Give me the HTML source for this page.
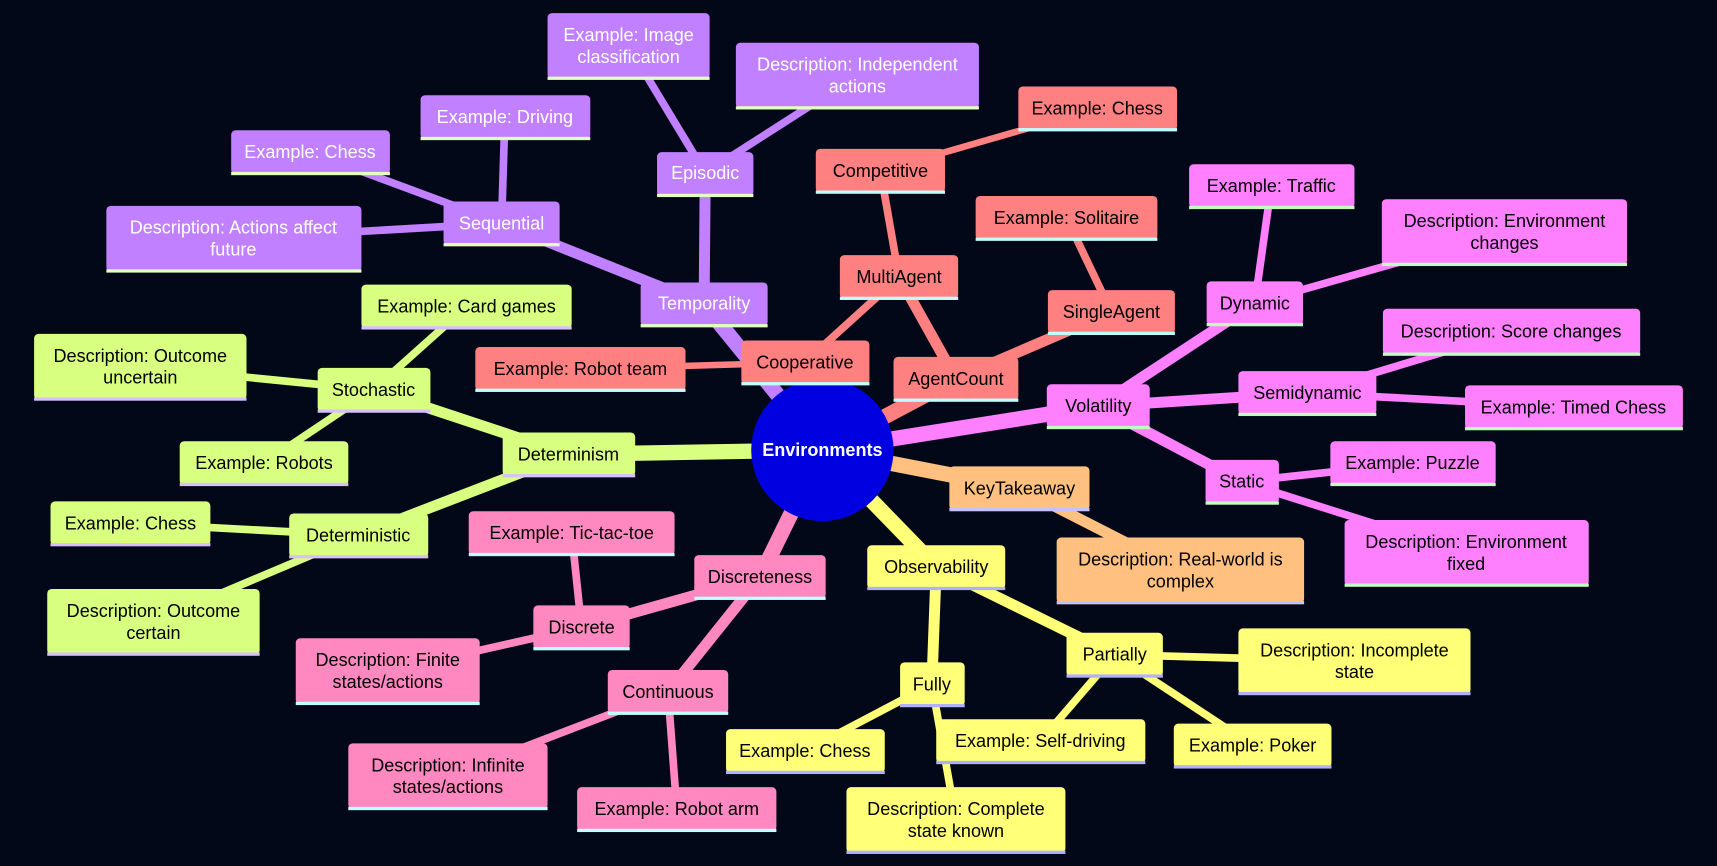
<!DOCTYPE html>
<html><head><meta charset="utf-8"><style>
html,body{margin:0;padding:0;background:#030818;}
svg{display:block}
text{font-family:"Liberation Sans","DejaVu Sans",sans-serif;font-size:16.5px;text-anchor:middle;dominant-baseline:central}
.w text{fill:#fff}
</style></head><body>
<svg width="1717" height="866" viewBox="0 0 1568 791" xmlns="http://www.w3.org/2000/svg">
<rect x="0" y="0" width="1568" height="791" fill="#030818"/>
<!-- edges -->
<g fill="none" stroke-linecap="butt">
<!-- purple -->
<g stroke="#c080ff">
<line x1="751" y1="411" x2="643" y2="278" stroke-width="14"/>
<line x1="643" y1="278" x2="458" y2="204" stroke-width="10"/>
<line x1="643" y1="278" x2="644" y2="158" stroke-width="10"/>
<line x1="644" y1="158" x2="574" y2="42" stroke-width="7"/>
<line x1="644" y1="158" x2="783" y2="69" stroke-width="7"/>
<line x1="458" y1="204" x2="461" y2="107" stroke-width="7"/>
<line x1="458" y1="204" x2="283" y2="139" stroke-width="7"/>
<line x1="458" y1="204" x2="213" y2="218" stroke-width="7"/>
</g>
<g stroke="#ff8080">
<line x1="751" y1="411" x2="873" y2="346" stroke-width="14"/>
<line x1="873" y1="346" x2="821" y2="253" stroke-width="10"/>
<line x1="873" y1="346" x2="1015" y2="285" stroke-width="10"/>
<line x1="821" y1="253" x2="804" y2="156" stroke-width="7"/>
<line x1="821" y1="253" x2="735" y2="331" stroke-width="7"/>
<line x1="804" y1="156" x2="1002" y2="99" stroke-width="6"/>
<line x1="1015" y1="285" x2="974" y2="199" stroke-width="7"/>
<line x1="735" y1="331" x2="530" y2="337" stroke-width="6"/>
</g>
<g stroke="#ff80ff">
<line x1="751" y1="411" x2="1003" y2="371" stroke-width="14"/>
<line x1="1003" y1="371" x2="1146" y2="277" stroke-width="10"/>
<line x1="1003" y1="371" x2="1194" y2="359" stroke-width="10"/>
<line x1="1003" y1="371" x2="1134" y2="440" stroke-width="10"/>
<line x1="1146" y1="277" x2="1161" y2="170" stroke-width="7"/>
<line x1="1146" y1="277" x2="1374" y2="212" stroke-width="7"/>
<line x1="1194" y1="359" x2="1380" y2="303" stroke-width="7"/>
<line x1="1194" y1="359" x2="1437" y2="372" stroke-width="7"/>
<line x1="1134" y1="440" x2="1290" y2="423" stroke-width="7"/>
<line x1="1134" y1="440" x2="1339" y2="505" stroke-width="7"/>
</g>
<g stroke="#d8ff80">
<line x1="751" y1="411" x2="519" y2="415" stroke-width="14"/>
<line x1="519" y1="415" x2="341" y2="356" stroke-width="10"/>
<line x1="519" y1="415" x2="327" y2="489" stroke-width="10"/>
<line x1="341" y1="356" x2="426" y2="280" stroke-width="7"/>
<line x1="341" y1="356" x2="128" y2="335" stroke-width="7"/>
<line x1="341" y1="356" x2="241" y2="423" stroke-width="7"/>
<line x1="327" y1="489" x2="119" y2="478" stroke-width="7"/>
<line x1="327" y1="489" x2="140" y2="568" stroke-width="7"/>
</g>
<g stroke="#ff88c0">
<line x1="751" y1="411" x2="694" y2="527" stroke-width="14"/>
<line x1="694" y1="527" x2="531" y2="573" stroke-width="10"/>
<line x1="694" y1="527" x2="610" y2="632" stroke-width="10"/>
<line x1="531" y1="573" x2="522" y2="487" stroke-width="7"/>
<line x1="531" y1="573" x2="354" y2="613" stroke-width="7"/>
<line x1="610" y1="632" x2="409" y2="709" stroke-width="7"/>
<line x1="610" y1="632" x2="618" y2="739" stroke-width="7"/>
</g>
<g stroke="#ffff78">
<line x1="751" y1="411" x2="855" y2="518" stroke-width="14"/>
<line x1="855" y1="518" x2="851" y2="625" stroke-width="10"/>
<line x1="855" y1="518" x2="1018" y2="598" stroke-width="10"/>
<line x1="851" y1="625" x2="735" y2="686" stroke-width="7"/>
<line x1="851" y1="625" x2="873" y2="749" stroke-width="7"/>
<line x1="1018" y1="598" x2="950" y2="677" stroke-width="7"/>
<line x1="1018" y1="598" x2="1237" y2="604" stroke-width="7"/>
<line x1="1018" y1="598" x2="1144" y2="681" stroke-width="7"/>
</g>
<g stroke="#ffc080">
<line x1="751" y1="411" x2="931" y2="446" stroke-width="14"/>
<line x1="931" y1="446" x2="1078" y2="521" stroke-width="10"/>
</g>
</g>
<circle cx="751" cy="411" r="65" fill="#0000e0"/>
<text x="751" y="411" fill="#fff" font-weight="bold">Environments</text>

<!-- purple nodes -->
<g class="w">
<g fill="#c080ff"><rect x="585" y="258" width="116" height="40" rx="4"/><rect x="405" y="184" width="106" height="40" rx="4"/><rect x="600" y="139" width="88" height="40" rx="4"/><rect x="500" y="12" width="148" height="60" rx="4"/><rect x="672" y="39" width="222" height="60" rx="4"/><rect x="384" y="87" width="155" height="40" rx="4"/><rect x="211" y="119" width="145" height="40" rx="4"/><rect x="97" y="188" width="233" height="60" rx="4"/></g>
<g fill="#e0ffc0"><rect x="585" y="296" width="116" height="3"/><rect x="405" y="222" width="106" height="3"/><rect x="600" y="177" width="88" height="3"/><rect x="500" y="70" width="148" height="3"/><rect x="672" y="97" width="222" height="3"/><rect x="384" y="125" width="155" height="3"/><rect x="211" y="157" width="145" height="3"/><rect x="97" y="246" width="233" height="3"/></g>
<text x="643" y="277">Temporality</text><text x="458" y="204">Sequential</text><text x="644" y="158">Episodic</text>
<text x="574" y="32">Example: Image</text><text x="574" y="52">classification</text>
<text x="783" y="59">Description: Independent</text><text x="783" y="79">actions</text>
<text x="461" y="107">Example: Driving</text><text x="283" y="139">Example: Chess</text>
<text x="213" y="208">Description: Actions affect</text><text x="213" y="228">future</text>
</g>

<!-- salmon -->
<g fill="#ff8080"><rect x="816" y="326" width="114" height="40" rx="4"/><rect x="767" y="233" width="108" height="40" rx="4"/><rect x="957" y="265" width="116" height="40" rx="4"/><rect x="745" y="136" width="118" height="40" rx="4"/><rect x="930" y="79" width="145" height="40" rx="4"/><rect x="891" y="179" width="166" height="40" rx="4"/><rect x="677" y="311" width="117" height="40" rx="4"/><rect x="434" y="317" width="192" height="40" rx="4"/></g>
<g fill="#c0ffff"><rect x="816" y="364" width="114" height="3"/><rect x="767" y="271" width="108" height="3"/><rect x="957" y="303" width="116" height="3"/><rect x="745" y="174" width="118" height="3"/><rect x="930" y="117" width="145" height="3"/><rect x="891" y="217" width="166" height="3"/><rect x="677" y="349" width="117" height="3"/><rect x="434" y="355" width="192" height="3"/></g>
<text x="873" y="346">AgentCount</text><text x="821" y="253">MultiAgent</text><text x="1015" y="285">SingleAgent</text><text x="804" y="156">Competitive</text><text x="1002" y="99">Example: Chess</text><text x="974" y="199">Example: Solitaire</text><text x="735" y="331">Cooperative</text><text x="530" y="337">Example: Robot team</text>

<!-- magenta -->
<g fill="#ff80ff"><rect x="956" y="351" width="94" height="40" rx="4"/><rect x="1102" y="257" width="88" height="40" rx="4"/><rect x="1086" y="150" width="151" height="40" rx="4"/><rect x="1262" y="182" width="224" height="60" rx="4"/><rect x="1131" y="339" width="126" height="40" rx="4"/><rect x="1263" y="282" width="235" height="42" rx="4"/><rect x="1338" y="352" width="199" height="40" rx="4"/><rect x="1101" y="420" width="67" height="40" rx="4"/><rect x="1215" y="403" width="151" height="40" rx="4"/><rect x="1228" y="475" width="223" height="60" rx="4"/></g>
<g fill="#c0ffc0"><rect x="956" y="389" width="94" height="3"/><rect x="1102" y="295" width="88" height="3"/><rect x="1086" y="188" width="151" height="3"/><rect x="1262" y="240" width="224" height="3"/><rect x="1131" y="377" width="126" height="3"/><rect x="1263" y="322" width="235" height="3"/><rect x="1338" y="390" width="199" height="3"/><rect x="1101" y="458" width="67" height="3"/><rect x="1215" y="441" width="151" height="3"/><rect x="1228" y="533" width="223" height="3"/></g>
<text x="1003" y="371">Volatility</text><text x="1146" y="277">Dynamic</text><text x="1161" y="170">Example: Traffic</text><text x="1374" y="202">Description: Environment</text><text x="1374" y="222">changes</text><text x="1194" y="359">Semidynamic</text><text x="1380" y="303">Description: Score changes</text><text x="1437" y="372">Example: Timed Chess</text><text x="1134" y="440">Static</text><text x="1290" y="423">Example: Puzzle</text><text x="1339" y="495">Description: Environment</text><text x="1339" y="515">fixed</text>

<!-- green -->
<g fill="#d8ff80"><rect x="459" y="395" width="121" height="40" rx="4"/><rect x="290" y="336" width="103" height="40" rx="4"/><rect x="264" y="469" width="127" height="40" rx="4"/><rect x="330" y="260" width="192" height="40" rx="4"/><rect x="31" y="305" width="194" height="60" rx="4"/><rect x="164" y="403" width="154" height="40" rx="4"/><rect x="46" y="458" width="146" height="40" rx="4"/><rect x="43" y="538" width="194" height="60" rx="4"/></g>
<g fill="#d8c0ff"><rect x="459" y="433" width="121" height="3"/><rect x="290" y="374" width="103" height="3"/><rect x="264" y="507" width="127" height="3"/><rect x="330" y="298" width="192" height="3"/><rect x="31" y="363" width="194" height="3"/><rect x="164" y="441" width="154" height="3"/><rect x="46" y="496" width="146" height="3"/><rect x="43" y="596" width="194" height="3"/></g>
<text x="519" y="415">Determinism</text><text x="341" y="356">Stochastic</text><text x="327" y="489">Deterministic</text><text x="426" y="280">Example: Card games</text><text x="128" y="325">Description: Outcome</text><text x="128" y="345">uncertain</text><text x="241" y="423">Example: Robots</text><text x="119" y="478">Example: Chess</text><text x="140" y="558">Description: Outcome</text><text x="140" y="578">certain</text>

<!-- pink -->
<g fill="#ff88c0"><rect x="634" y="507" width="120" height="40" rx="4"/><rect x="487" y="553" width="88" height="40" rx="4"/><rect x="555" y="612" width="110" height="40" rx="4"/><rect x="428" y="467" width="188" height="40" rx="4"/><rect x="270" y="583" width="168" height="60" rx="4"/><rect x="318" y="679" width="182" height="60" rx="4"/><rect x="527" y="719" width="182" height="40" rx="4"/></g>
<g fill="#c0ffff"><rect x="634" y="545" width="120" height="3"/><rect x="487" y="591" width="88" height="3"/><rect x="555" y="650" width="110" height="3"/><rect x="428" y="505" width="188" height="3"/><rect x="270" y="641" width="168" height="3"/><rect x="318" y="737" width="182" height="3"/><rect x="527" y="757" width="182" height="3"/></g>
<text x="694" y="527">Discreteness</text><text x="531" y="573">Discrete</text><text x="610" y="632">Continuous</text><text x="522" y="487">Example: Tic-tac-toe</text><text x="354" y="603">Description: Finite</text><text x="354" y="623">states/actions</text><text x="409" y="699">Description: Infinite</text><text x="409" y="719">states/actions</text><text x="618" y="739">Example: Robot arm</text>

<!-- yellow -->
<g fill="#ffff78"><rect x="792" y="498" width="126" height="40" rx="4"/><rect x="822" y="605" width="59" height="40" rx="4"/><rect x="974" y="578" width="88" height="40" rx="4"/><rect x="663" y="666" width="145" height="40" rx="4"/><rect x="855" y="657" width="191" height="40" rx="4"/><rect x="773" y="719" width="200" height="60" rx="4"/><rect x="1131" y="574" width="212" height="60" rx="4"/><rect x="1072" y="661" width="144" height="40" rx="4"/></g>
<g fill="#b0b0ff"><rect x="792" y="536" width="126" height="3"/><rect x="822" y="643" width="59" height="3"/><rect x="974" y="616" width="88" height="3"/><rect x="663" y="704" width="145" height="3"/><rect x="855" y="695" width="191" height="3"/><rect x="773" y="777" width="200" height="3"/><rect x="1131" y="632" width="212" height="3"/><rect x="1072" y="699" width="144" height="3"/></g>
<text x="855" y="518">Observability</text><text x="851" y="625">Fully</text><text x="1018" y="598">Partially</text><text x="735" y="686">Example: Chess</text><text x="950" y="677">Example: Self-driving</text><text x="873" y="739">Description: Complete</text><text x="873" y="759">state known</text><text x="1237" y="594">Description: Incomplete</text><text x="1237" y="614">state</text><text x="1144" y="681">Example: Poker</text>

<!-- orange -->
<g fill="#ffc080"><rect x="867" y="426" width="128" height="40" rx="4"/><rect x="965" y="491" width="226" height="60" rx="4"/></g>
<g fill="#c8c0ff"><rect x="867" y="464" width="128" height="3"/><rect x="965" y="549" width="226" height="3"/></g>
<text x="931" y="446">KeyTakeaway</text><text x="1078" y="511">Description: Real-world is</text><text x="1078" y="531">complex</text>
</svg>
</body></html>
